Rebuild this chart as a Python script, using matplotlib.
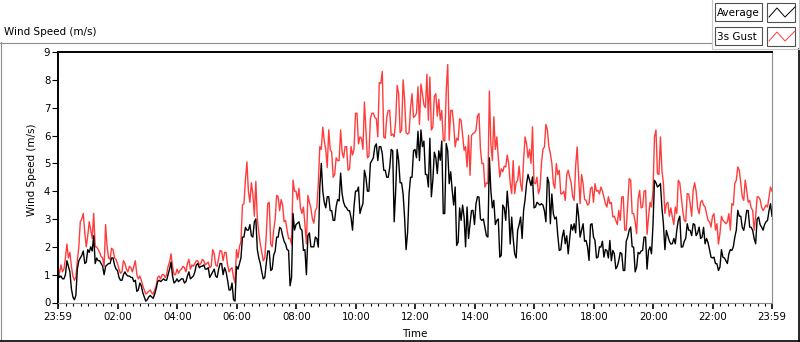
import numpy as np
import matplotlib.pyplot as plt

# wind speed readings (m/s), read every 6 minutes from 23:59 ...
gust_a = [1.25, 1.35, 1.2, 2.1, 1.8, 0.95, 0.9, 2.0, 3.0, 2.5, 2.4, 2.6, 3.2, 2.0, 1.8, 1.6, 2.8, 1.6, 1.95, 1.6,
          1.4, 1.05, 1.5, 1.2, 1.3, 1.1, 1.5, 0.85, 0.8, 0.45, 0.35, 0.45, 0.3, 0.6, 0.95, 1.0, 0.9, 1.3, 1.75, 1.0, 1.2,
          1.15, 1.3, 1.1, 1.55, 1.35, 1.4, 1.5, 1.4, 1.5, 1.4, 1.25, 1.9, 1.35, 1.6, 1.85, 1.8, 1.35, 1.2, 0.9, 1.9,
          2.0, 3.5, 4.4, 4.0, 4.3, 3.1, 3.0, 2.1, 1.5, 2.4, 3.6, 2.0, 3.0, 3.8, 3.7, 2.9, 2.6, 2.3, 4.4, 4.0, 4.1,
          3.2, 2.8, 3.85, 3.4, 2.85, 3.4, 5.6, 6.3, 5.5, 6.2, 5.4, 4.6, 5.1, 6.2, 5.2, 5.6, 4.8, 5.3, 6.8, 5.7,
          5.9, 7.2, 5.2, 6.6, 6.8, 6.6, 7.9, 8.3, 5.9, 6.9, 6.0, 5.95, 7.8, 6.1, 8.0, 6.1, 6.1, 7.5, 6.7, 7.75,
          7.85, 7.1, 8.2, 8.1, 6.3, 7.5, 7.3, 6.9, 5.8, 8.55, 6.9, 6.4, 5.9, 6.6, 6.0, 5.6, 6.0, 6.0, 6.1, 6.7,
          5.5, 5.0, 4.3, 7.6, 5.1, 5.5, 5.2, 4.8, 4.9, 5.3, 4.3, 5.1, 4.3, 4.9, 4.0, 5.95, 5.2, 5.0, 4.3, 4.5, 4.1,
          5.5, 6.4, 5.6, 5.0, 4.1, 4.6, 3.9, 4.0, 4.6, 4.5, 3.8, 4.9, 4.5, 4.6, 3.7, 3.5, 4.1, 3.6, 4.0, 3.9,
          4.0, 3.55, 3.8, 3.6, 3.1, 2.8, 2.95, 3.8, 2.6, 4.45, 3.2, 2.9, 3.7, 3.4, 4.0, 2.45, 3.6, 4.0, 6.2, 4.6,
          4.75, 3.2, 3.6, 3.4, 2.8, 3.2, 4.3, 3.3, 2.9, 3.9, 3.1, 4.3, 3.4, 3.6, 3.5, 3.2, 2.9, 3.1, 2.6, 2.1,
          3.1, 2.9, 2.9, 2.6, 3.5, 4.4, 4.75, 3.8, 4.4, 3.6, 3.4, 2.6, 3.8, 3.7, 3.3, 3.5, 3.8, 4.0]
avg_a = [1.1, 0.95, 0.85, 1.5, 1.1, 0.2, 0.25, 1.5, 1.7, 1.4, 1.9, 2.0, 2.4, 1.6, 1.5, 1.3, 1.3, 1.4, 1.6, 1.35,
         1.15, 0.8, 1.0, 1.0, 0.95, 0.9, 0.8, 0.45, 0.6, 0.2, 0.1, 0.25, 0.15, 0.5, 0.8, 0.8, 0.8, 1.0, 1.45, 0.7, 0.85,
         0.8, 0.85, 0.75, 1.1, 0.9, 1.1, 1.4, 1.3, 1.35, 1.2, 0.9, 1.1, 0.95, 1.2, 1.4, 1.25, 0.8, 0.45, 0.1, 1.3,
         1.4, 2.35, 2.7, 2.6, 2.4, 2.9, 1.9, 1.4, 0.85, 1.4, 1.85, 1.2, 1.85, 2.35, 2.65, 2.2, 1.9, 0.6, 3.2, 2.8, 2.9,
         2.6, 1.9, 2.4, 2.0, 2.0, 2.3, 4.15, 4.0, 3.4, 3.8, 3.3, 2.95, 3.7, 4.65, 3.6, 3.4, 3.3, 2.6, 4.0, 4.15,
         3.4, 4.75, 4.0, 5.0, 5.2, 5.7, 5.6, 5.35, 4.75, 4.5, 5.5, 2.9, 5.5, 4.3, 3.9, 1.9, 3.9, 4.5, 5.5, 6.15,
         6.2, 5.8, 4.6, 5.9, 4.4, 5.2, 5.45, 5.8, 3.2, 5.45, 4.7, 3.5, 2.05, 3.4, 3.5, 2.0, 2.3, 3.3, 2.8, 3.8,
         3.0, 3.0, 2.4, 5.2, 3.4, 2.8, 3.0, 1.7, 3.4, 4.0, 2.1, 2.3, 1.6, 2.8, 2.3, 3.7, 4.6, 4.2, 3.4, 3.6, 3.5,
         3.5, 2.9, 4.3, 3.9, 3.0, 2.4, 1.9, 2.6, 2.4, 2.3, 2.6, 2.5, 3.1, 2.6, 2.2, 2.0, 2.8, 2.35, 1.6, 2.0,
         2.2, 1.9, 1.6, 1.5, 1.75, 1.3, 1.8, 1.15, 2.2, 2.6, 2.0, 1.1, 1.8, 1.85, 2.35, 1.2, 2.0, 2.8, 4.3, 4.2,
         3.4, 1.9, 2.4, 2.1, 2.3, 2.6, 3.1, 2.0, 2.3, 2.6, 2.4, 2.8, 2.5, 2.3, 2.7, 2.3, 1.9, 1.6, 1.4, 1.15,
         1.9, 1.6, 1.4, 1.9, 2.0, 2.6, 3.1, 2.7, 2.9, 3.3, 2.7, 2.3, 3.0, 2.8, 2.6, 2.9, 3.3, 3.1]
# ... and the readings 3 minutes after each of those
gust_b = [1.05, 1.1, 1.6, 1.6, 1.3, 0.8, 1.5, 2.9, 3.2, 2.0, 2.9, 2.3, 2.0, 1.9, 1.65, 1.3, 2.0, 1.55, 1.9, 1.55,
          1.2, 1.1, 1.4, 1.1, 1.25, 1.3, 1.0, 0.95, 0.6, 0.3, 0.4, 0.35, 0.45, 0.9, 0.85, 1.0, 1.0, 1.45, 1.3, 1.0,
          1.05, 1.2, 1.25, 1.4, 1.2, 1.3, 1.5, 1.35, 1.55, 1.35, 1.45, 1.3, 1.75, 1.3, 1.87, 1.5, 1.8, 1.1, 1.25, 0.7,
          1.6, 2.2, 3.55, 5.05, 3.6, 3.9, 4.35, 2.5, 1.8, 1.6, 3.55, 2.1, 2.6, 3.85, 3.3, 3.5, 2.95, 2.3, 2.1, 4.0, 3.7,
          3.4, 3.43, 2.11, 3.6, 3.0, 3.3, 4.27, 5.5, 5.8, 4.85, 5.5, 4.5, 5.2, 5.1, 5.4, 5.6, 4.75, 5.6, 5.5, 6.8,
          5.95, 5.5, 6.2, 5.25, 6.8, 6.65, 5.95, 7.87, 5.95, 6.65, 6.9, 6.05, 6.5, 7.5, 6.2, 7.3, 6.05, 7.0, 6.65, 6.8, 6.4,
          7.5, 7.0, 6.55, 6.2, 7.4, 6.7, 6.55, 5.83, 7.63, 5.83, 6.91, 5.59, 5.83, 6.55, 5.47, 4.87, 4.57, 6.07, 6.19, 6.79,
          4.99, 4.15, 4.27, 5.71, 6.67, 5.95, 4.51, 4.7, 4.87, 4.99, 3.91, 3.91, 4.39, 4.27, 5.11, 5.71, 5.5, 6.31, 4.27,
          3.91, 4.99,
          5.59, 6.2, 5.35, 4.27, 4.99, 4.75, 3.91, 3.67, 4.75, 4.3, 3.67, 5.59, 3.55, 4.27, 3.67, 3.55, 4.15, 4.27, 4.03, 4.15,
          3.79, 3.43, 3.55, 3.07, 2.95, 3.31, 3.79, 2.6, 3.55, 4.39, 3.19, 2.47, 4.03, 3.43, 4.03, 3.07, 3.43, 5.95, 4.63, 5.95,
          4.27, 3.55, 3.1, 3.07, 3.43, 4.39, 3.79, 2.95, 3.91, 3.55, 4.03, 4.0, 3.19, 3.67, 3.43, 2.95, 2.71, 3.19, 2.83, 2.47,
          2.95, 2.83, 3.19, 3.55, 4.27, 4.87, 4.3, 3.67, 4.03, 3.67, 3.31, 3.07, 3.79, 3.43, 3.4, 3.43, 4.15]
avg_b = [0.9, 0.85, 1.0, 1.3, 0.5, 0.1, 1.2, 1.6, 1.85, 1.45, 1.8, 1.85, 1.4, 1.5, 1.4, 1.0, 1.35, 1.4, 1.6, 1.2,
         0.9, 0.8, 1.1, 0.95, 0.9, 0.75, 0.4, 0.7, 0.35, 0.05, 0.2, 0.2, 0.3, 0.75, 0.75, 0.85, 0.8, 1.2, 0.95, 0.75,
         0.75, 0.85, 0.7, 0.95, 0.85, 0.95, 1.35, 1.25, 1.3, 1.2, 1.25, 1.0, 1.2, 0.9, 1.4, 1.0, 1.1, 0.45, 0.7, 0.05,
         1.2, 1.6, 2.35, 2.6, 2.8, 2.35, 3.0, 1.6, 1.1, 0.9, 1.85, 1.15, 1.7, 2.35, 2.7, 2.4, 2.1, 1.87, 0.9, 2.6, 2.85,
         2.65, 1.87, 1.0, 2.5, 2.0, 2.35, 1.99, 5.0, 3.6, 3.8, 3.3, 2.95, 3.45, 3.65, 3.9, 3.45, 3.3, 3.05, 3.45, 4.0,
         3.2, 3.55, 4.5, 4.0, 5.1, 5.6, 5.1, 5.6, 4.75, 4.5, 4.85, 5.45, 4.0, 5.1, 4.3, 3.05, 2.5, 4.5, 5.45, 5.2, 5.1,
         5.6, 4.6, 4.15, 3.8, 5.4, 4.63, 5.11, 3.19, 5.71, 4.27, 4.03, 4.15, 2.17, 2.95, 3.07, 3.43, 2.83, 3.31, 3.55, 3.79,
         2.95, 2.71, 2.35, 4.03, 3.67, 2.95, 1.63, 3.5, 2.95, 3.31, 3.07, 1.75, 2.59, 3.07, 3.31, 4.27, 4.4, 4.51, 3.43,
         3.55, 3.55,
         3.3, 4.5, 2.83, 3.19, 3.07, 1.87, 2.35, 2.11, 1.75, 2.8, 2.83, 3.55, 2.35, 2.83, 2.23, 1.51, 2.83, 2.23, 1.63, 1.99,
         1.63, 1.87, 2.23, 1.87, 1.21, 1.51, 1.75, 1.15, 2.35, 2.71, 1.99, 1.27, 1.75, 1.87, 2.35, 1.87, 1.75, 4.39, 4.15, 4.27,
         2.83, 2.59, 2.2, 2.11, 2.11, 2.95, 1.99, 2.2, 2.83, 2.59, 2.83, 2.4, 2.71, 2.35, 2.11, 2.15, 1.63, 1.63, 1.39, 1.27,
         1.63, 1.5, 1.75, 1.87, 2.35, 3.31, 3.1, 2.59, 3.31, 2.71, 2.59, 2.11, 3.07, 2.71, 2.8, 2.95, 3.55]

# minutes after 23:59
tick_pos = [0, 121, 241, 361, 481, 601, 721, 841, 961, 1081, 1201, 1321, 1440]
tick_labels = ['23:59', '02:00', '04:00', '06:00', '08:00', '10:00', '12:00',
               '14:00', '16:00', '18:00', '20:00', '22:00', '23:59']
series_names = ['Average', '3s Gust']
series_colors = ['black', '#ff3c3c']

# put the two sets of readings back in time order
gust = np.empty(len(gust_a) + len(gust_b))
gust[0::2] = gust_a
gust[1::2] = gust_b
avg = np.empty(len(avg_a) + len(avg_b))
avg[0::2] = avg_a
avg[1::2] = avg_b

W, H = 800, 342
fig = plt.figure(figsize=(8, 3.42), dpi=100)


def px_box(x0, y0, x1, y1):
    return [x0 / W, 1 - y1 / H, (x1 - x0) / W, (y1 - y0) / H]


# frame and legend drawn in pixel coordinates
ov = fig.add_axes([0, 0, 1, 1], zorder=-1)
ov.set_xlim(0, W)
ov.set_ylim(H, 0)
ov.axis('off')
ov.plot([0, 711], [42.5, 42.5], color='#8c8c8c', lw=0.8)
ov.plot([0.5, 0.5], [42, H], color='#8c8c8c', lw=0.8)
ov.plot([0, W], [341, 341], color='black', lw=1.2)
ov.plot([799, 799], [49, H], color='black', lw=1.2)
ov.plot([711.5, 711.5, W], [0, 49, 49], color='#c8c8c8', lw=0.8)
ov.plot([799.3, 799.3], [0, 49], color='#c8c8c8', lw=0.8)

fig.text(4 / W, 1 - 32 / H, 'Wind Speed (m/s)', fontsize=7.5, va='center', ha='left')

zig_x = np.array([0, 8, 16, 26])
zig_y = np.array([10, 1, 10, 0])
for i, (name, col) in enumerate(zip(series_names, series_colors)):
    top = 3 + 24 * i
    ov.add_patch(plt.Rectangle((715, top), 47, 18, facecolor='white', edgecolor='#505050', lw=0.8))
    ov.add_patch(plt.Rectangle((767, top), 28, 19, facecolor='white', edgecolor='#505050', lw=0.8))
    ov.text(717, top + 9.5, name, fontsize=7.5, va='center', ha='left')
    ov.plot(769 + zig_x, top + 4 + zig_y, color=col, lw=0.7)

ax = fig.add_axes(px_box(58, 52, 772, 302.5))
t_gust = np.linspace(0, 1440, len(gust))
t_avg = np.linspace(0, 1440, len(avg))
ax.plot(t_gust, gust, color=series_colors[1], lw=1.0)
ax.plot(t_avg, avg, color=series_colors[0], lw=1.0)

ax.set_xlim(0, 1440)
ax.set_ylim(0, 9)
ax.set_yticks(range(10))
ax.set_xticks(tick_pos)
ax.set_xticklabels(tick_labels)
ax.set_xticks(np.arange(1, 1440, 15), minor=True)
ax.tick_params(axis='y', length=4, width=0.8, pad=1.5, labelsize=7.3)
ax.tick_params(axis='x', which='major', length=4.5, width=1.2, pad=2, labelsize=7.3)
ax.tick_params(axis='x', which='minor', length=2.5, width=0.8)

for s in ['top', 'left']:
    ax.spines[s].set_color('black')
    ax.spines[s].set_linewidth(1.4)
for s in ['bottom', 'right']:
    ax.spines[s].set_color('#8c8c8c')
    ax.spines[s].set_linewidth(0.8)

ax.set_ylabel('Wind Speed (m/s)', fontsize=7.5)
ax.yaxis.set_label_coords(-0.029, 0.53)
ax.set_xlabel('Time', fontsize=7.5)
ax.xaxis.set_label_coords(0.5, -0.105)

fig.savefig('out.png', dpi=100)
